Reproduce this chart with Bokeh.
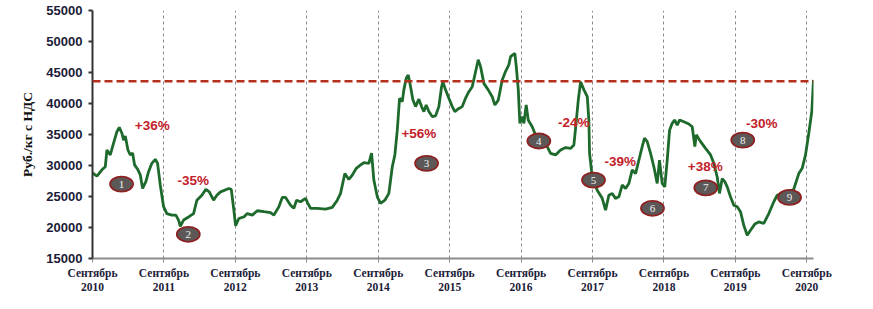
from bokeh.plotting import figure
from bokeh.models import FixedTicker, Span, ColumnDataSource, Range1d
from bokeh.core.properties import value
from bokeh.embed import file_html
from bokeh.resources import INLINE

# time in years since September 2010
t_years = [0.00, 0.062, 0.132, 0.179, 0.202, 0.249, 0.295, 0.342, 0.375, 0.412,
           0.435, 0.459, 0.496, 0.529, 0.561, 0.589, 0.636, 0.669, 0.701, 0.747,
           0.785, 0.831, 0.879, 0.911, 0.949, 0.995, 1.041, 1.111, 1.167, 1.205,
           1.229, 1.275, 1.345, 1.415, 1.461, 1.531, 1.587, 1.635, 1.695, 1.741,
           1.793, 1.909, 1.943, 1.979, 2.003, 2.049, 2.119, 2.167, 2.237, 2.307,
           2.399, 2.493, 2.539, 2.609, 2.657, 2.703, 2.773, 2.819, 2.857, 2.913,
           2.983, 3.015, 3.053, 3.147, 3.263, 3.357, 3.427, 3.473, 3.533, 3.589,
           3.637, 3.693, 3.753, 3.799, 3.869, 3.907, 3.939, 3.987, 4.033, 4.093,
           4.149, 4.197, 4.233, 4.267, 4.299, 4.337, 4.359, 4.393, 4.421, 4.453,
           4.485, 4.523, 4.569, 4.607, 4.639, 4.672, 4.709, 4.756, 4.803, 4.849,
           4.887, 4.905, 4.943, 4.989, 5.037, 5.073, 5.129, 5.176, 5.223, 5.269,
           5.316, 5.353, 5.400, 5.433, 5.479, 5.540, 5.596, 5.633, 5.681, 5.736,
           5.782, 5.829, 5.853, 5.885, 5.913, 5.933, 5.961, 5.983, 6.016, 6.039,
           6.072, 6.100, 6.156, 6.212, 6.272, 6.343, 6.413, 6.483, 6.553, 6.623,
           6.693, 6.739, 6.763, 6.801, 6.833, 6.880, 6.927, 6.949, 6.959, 6.996,
           7.066, 7.136, 7.183, 7.229, 7.276, 7.322, 7.369, 7.416, 7.463, 7.509,
           7.556, 7.603, 7.649, 7.696, 7.728, 7.766, 7.813, 7.859, 7.906, 7.938,
           7.976, 8.012, 8.046, 8.079, 8.116, 8.149, 8.186, 8.219, 8.279, 8.349,
           8.396, 8.433, 8.453, 8.513, 8.583, 8.653, 8.699, 8.746, 8.778, 8.816,
           8.852, 8.886, 8.932, 8.978, 9.026, 9.072, 9.118, 9.166, 9.212, 9.272,
           9.328, 9.398, 9.468, 9.538, 9.586, 9.702, 9.814, 9.888, 9.936, 9.982,
           10.028, 10.070, 10.094]

price = [28800, 28300, 29300, 29800, 32500, 31700, 33600, 35450, 36150, 35200,
         34100, 34750, 32500, 31700, 32000, 30100, 29300, 28500, 26300, 27400,
         29000, 30350, 31000, 30350, 26850, 23350, 22250, 22000, 22000, 21200,
         20200, 21200, 21700, 22250, 24400, 25200, 26150, 25750, 24400, 25200,
         25750, 26300, 26150, 22800, 20300, 21450, 21700, 22250, 22000, 22700,
         22550, 22400, 22000, 23350, 24850, 24850, 23600, 23100, 24400, 24150,
         24700, 23900, 23100, 23100, 22950, 23250, 24400, 25500, 28700, 27750,
         28450, 29550, 30100, 30450, 30350, 32000, 27650, 24950, 23900, 24400,
         25500, 29800, 31700, 35700, 40850, 40300, 42200, 44100, 44600, 42700,
         40600, 39500, 40700, 39500, 38700, 39750, 38700, 37900, 38000, 39500,
         42700, 43500, 42200, 40850, 39500, 38700, 39200, 39500, 40850, 41900,
         42700, 44600, 47050, 45950, 43250, 42200, 41100, 39750, 40550, 43800,
         45150, 46250, 47550, 47850, 48100, 45950, 42200, 36800, 37900, 36800,
         39750, 37350, 36250, 34650, 34100, 33550, 31950, 31700, 32500, 32900,
         32750, 33300, 36000, 40550, 43500, 42200, 41100, 37350, 31950, 28150,
         26000, 24700, 22800, 25200, 25500, 24700, 24950, 26850, 26300, 27100,
         29300, 28700, 30850, 33050, 34400, 33850, 31950, 29800, 27100, 30850,
         27100, 26550, 30850, 35700, 36800, 37350, 36500, 37350, 37050, 36700,
         36250, 33050, 34950, 33850, 32750, 31700, 30350, 28150, 25500, 27900,
         27400, 26550, 24950, 23600, 23350, 22550, 20350, 18750, 19550, 20550,
         20900, 20650, 22250, 24150, 25200, 25800, 26050, 28700, 29550, 31700,
         35200, 38700, 43800]

threshold = 43600

tick_years = ["2010", "2011", "2012", "2013", "2014", "2015", "2016", "2017", "2018", "2019", "2020"]
tick_month = "Сентябрь"
y_ticks = [15000, 20000, 25000, 30000, 35000, 40000, 45000, 50000, 55000]

pct_labels = ["+36%", "-35%", "+56%", "-24%", "-39%", "+38%", "-30%"]
pct_t = [0.837, 1.411, 4.569, 6.739, 7.388, 8.578, 9.370]
pct_v = [36530, 27650, 35200, 36900, 30600, 29800, 36800]

num_labels = ["1", "2", "3", "4", "5", "6", "7", "8", "9"]
num_t = [0.407, 1.341, 4.677, 6.249, 7.014, 7.840, 8.586, 9.104, 9.758]
num_v = [27000, 18900, 30350, 33950, 27650, 23100, 26400, 34100, 24850]

p = figure(width=873, height=309, output_backend="svg", toolbar_location=None,
           x_range=Range1d(0, 10.094), y_range=Range1d(15000, 55000),
           min_border_left=92, min_border_right=60, min_border_top=10, min_border_bottom=51)
p.outline_line_color = None
p.background_fill_color = "white"
p.border_fill_color = "white"

# axes
xt = list(range(len(tick_years)))
p.xaxis.ticker = FixedTicker(ticks=xt)
p.xaxis.major_label_overrides = {i: tick_month + "\n" + y for i, y in zip(xt, tick_years)}
p.xaxis.major_label_text_font = "Liberation Serif"
p.xaxis.major_label_text_font_style = "bold"
p.xaxis.major_label_text_font_size = "11.5px"
p.xaxis.major_label_text_color = "#1c1c38"
p.xaxis.major_label_standoff = 4
p.xaxis.axis_line_color = "#8c8c8c"
p.xaxis.axis_line_width = 2
p.xaxis.major_tick_line_color = "#8c8c8c"
p.xaxis.major_tick_in = 0
p.xaxis.major_tick_out = 4
p.xaxis.minor_tick_line_color = None

p.yaxis.ticker = FixedTicker(ticks=y_ticks)
p.yaxis.major_label_overrides = {v: str(v) for v in y_ticks}
p.yaxis.major_label_text_font = "Liberation Sans"
p.yaxis.major_label_text_font_style = "bold"
p.yaxis.major_label_text_font_size = "13px"
p.yaxis.major_label_text_color = "#1c1c38"
p.yaxis.major_label_standoff = 6
p.yaxis.axis_line_color = "#333333"
p.yaxis.axis_line_width = 2
p.yaxis.major_tick_line_color = "#333333"
p.yaxis.major_tick_line_width = 2
p.yaxis.major_tick_in = 0
p.yaxis.major_tick_out = 4
p.yaxis.minor_tick_line_color = None
p.yaxis.axis_label = "Руб./кг с НДС"
p.yaxis.axis_label_text_font = "Liberation Serif"
p.yaxis.axis_label_text_font_style = "bold"
p.yaxis.axis_label_text_font_size = "13.5px"
p.yaxis.axis_label_text_color = "#111111"
p.yaxis.axis_label_standoff = 8

# grids
p.ygrid.grid_line_color = None
p.xgrid.ticker = FixedTicker(ticks=xt[1:])
p.xgrid.grid_line_color = "#8a8a8a"
p.xgrid.grid_line_dash = "3 3"
p.xgrid.grid_line_width = 1

# threshold dashed line
p.add_layout(Span(location=threshold, dimension="width", line_color="#b5301c",
                  line_width=2.5, line_dash="8 4"))

# price line
src = ColumnDataSource(dict(t=t_years, v=price))
p.line("t", "v", source=src, line_color="#1d6a2c", line_width=2.8)

# percentage labels
p.text(pct_t, pct_v, text=pct_labels, text_color="#c3202a",
       text_font=value("Liberation Sans"), text_font_style="bold",
       text_font_size="13.5px", text_align="center", text_baseline="middle")

# numbered markers
p.ellipse(num_t, num_v, width=23, height=15, width_units="screen", height_units="screen",
          fill_color="#5c5858", line_color="#8e2222", line_width=1.8)
p.text(num_t, num_v, text=num_labels, text_color="#f2f2f2",
       text_font=value("Liberation Serif"), text_font_size="11px",
       text_align="center", text_baseline="middle")

open("out.html", "w").write(file_html(p, INLINE))
